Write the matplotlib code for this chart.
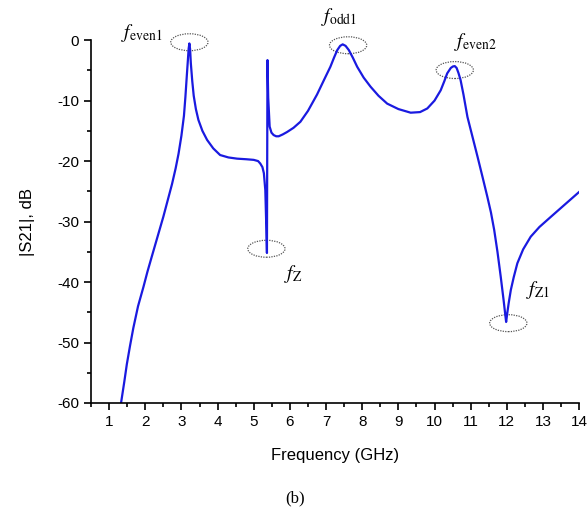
import matplotlib.pyplot as plt
from matplotlib.patches import Ellipse
from matplotlib.ticker import MultipleLocator

plt.rcParams['font.family'] = ['Liberation Sans', 'DejaVu Sans']
plt.rcParams['mathtext.fontset'] = 'stix'
plt.rcParams['axes.unicode_minus'] = False

# values: frequency (GHz) and |S21| (dB)
freq = [1.33, 1.42, 1.49, 1.58, 1.67, 1.80, 1.95, 2.06, 2.18, 2.34, 2.50, 2.62, 2.74,
        2.84, 2.92, 3.00, 3.07, 3.11, 3.15, 3.18, 3.20, 3.22, 3.24, 3.26, 3.30, 3.34,
        3.40, 3.47, 3.58, 3.71, 3.88, 4.07, 4.30, 4.54, 4.80, 5.00, 5.12, 5.18, 5.24,
        5.28, 5.32, 5.35, 5.365, 5.38, 5.40, 5.44, 5.49, 5.55, 5.62, 5.69, 5.80, 5.92,
        6.10, 6.29, 6.50, 6.75, 6.95, 7.12, 7.22, 7.31, 7.39, 7.46, 7.54, 7.63, 7.74,
        7.86, 8.04, 8.23, 8.45, 8.69, 9.00, 9.34, 9.60, 9.80, 10.00, 10.17, 10.27,
        10.35, 10.45, 10.51, 10.56, 10.61, 10.66, 10.72, 10.80, 10.91, 11.05, 11.19,
        11.33, 11.46, 11.56, 11.65, 11.74, 11.83, 11.91, 11.96, 11.98, 12.01, 12.05,
        12.11, 12.19, 12.29, 12.45, 12.66, 12.90, 13.22, 13.60, 14.0]
s21 = [-60.0, -56.5, -53.6, -50.5, -47.6, -44.0, -40.8, -38.3, -35.8, -32.5, -29.2,
       -26.5, -23.8, -21.2, -18.8, -15.8, -12.5, -9.4, -5.8, -3.2, -1.4, -0.55, -1.5,
       -3.8, -6.8, -9.2, -11.4, -13.2, -15.0, -16.5, -17.9, -19.0, -19.4, -19.6,
       -19.7, -19.8, -20.0, -20.4, -21.0, -22.0, -24.8, -31.4, -35.2, -3.3, -9.5,
       -14.3, -15.3, -15.7, -15.9, -15.9, -15.6, -15.2, -14.5, -13.5, -11.7, -9.0,
       -6.5, -4.4, -2.9, -1.65, -0.95, -0.7, -0.95, -1.65, -2.9, -4.4, -6.2, -7.7,
       -9.2, -10.5, -11.4, -12.0, -11.9, -11.3, -10.0, -8.3, -6.8, -5.5, -4.6, -4.35,
       -4.3, -4.6, -5.4, -6.6, -9.0, -12.7, -16.0, -19.3, -22.7, -25.9, -28.5, -31.4,
       -35.0, -39.1, -43.0, -45.6, -46.6, -45.2, -43.5, -41.3, -39.2, -36.9, -34.6,
       -32.5, -30.9, -29.2, -27.2, -25.1]

# marked resonances: label, ellipse centre (GHz, dB), label position
marks = ['even1', 'odd1', 'even2', 'Z', 'Z1']
mark_f = [3.22, 7.61, 10.56, 5.35, 12.04]
mark_db = [-0.35, -0.85, -4.95, -34.5, -46.8]
label_f = [1.33, 6.85, 10.55, 5.85, 12.53]
label_db = [1.2, 3.8, -0.3, -38.6, -41.3]

fig = plt.figure(figsize=(5.88, 5.21), dpi=100)
ax = fig.add_axes([0.1548, 0.2265, 0.8302, 0.6965])
ax.plot(freq, s21, color='#1a1ae0', linewidth=1.6)

for name, cx, cy, lx, ly in zip(marks, mark_f, mark_db, label_f, label_db):
    ax.add_patch(Ellipse((cx, cy), 1.03, 2.8, fill=False, edgecolor='#555555',
                         linestyle=(0, (1, 1)), linewidth=0.9, clip_on=False))
    ax.text(lx, ly, r'$f_{\mathrm{' + name + '}}$', fontsize=14,
            ha='left', va='center', clip_on=False)

ax.set_xlim(0.5, 14)
ax.set_ylim(-60, 0)
ax.xaxis.set_major_locator(MultipleLocator(1))
ax.xaxis.set_minor_locator(MultipleLocator(0.5))
ax.yaxis.set_major_locator(MultipleLocator(10))
ax.yaxis.set_minor_locator(MultipleLocator(5))
ax.tick_params(which='major', length=5, width=1.2, labelsize=11)
ax.tick_params(which='minor', length=3, width=1.2)
for side in ['top', 'right']:
    ax.spines[side].set_visible(False)
for side in ['left', 'bottom']:
    ax.spines[side].set_linewidth(1.2)

ax.set_xlabel('Frequency (GHz)', fontsize=12, labelpad=14)
ax.set_ylabel('|S21|, dB', fontsize=12, labelpad=16)
fig.text(0.502, 0.044, '(b)', family='Liberation Serif', fontsize=12,
         ha='center', va='center')

fig.savefig('out.png', dpi=100)
